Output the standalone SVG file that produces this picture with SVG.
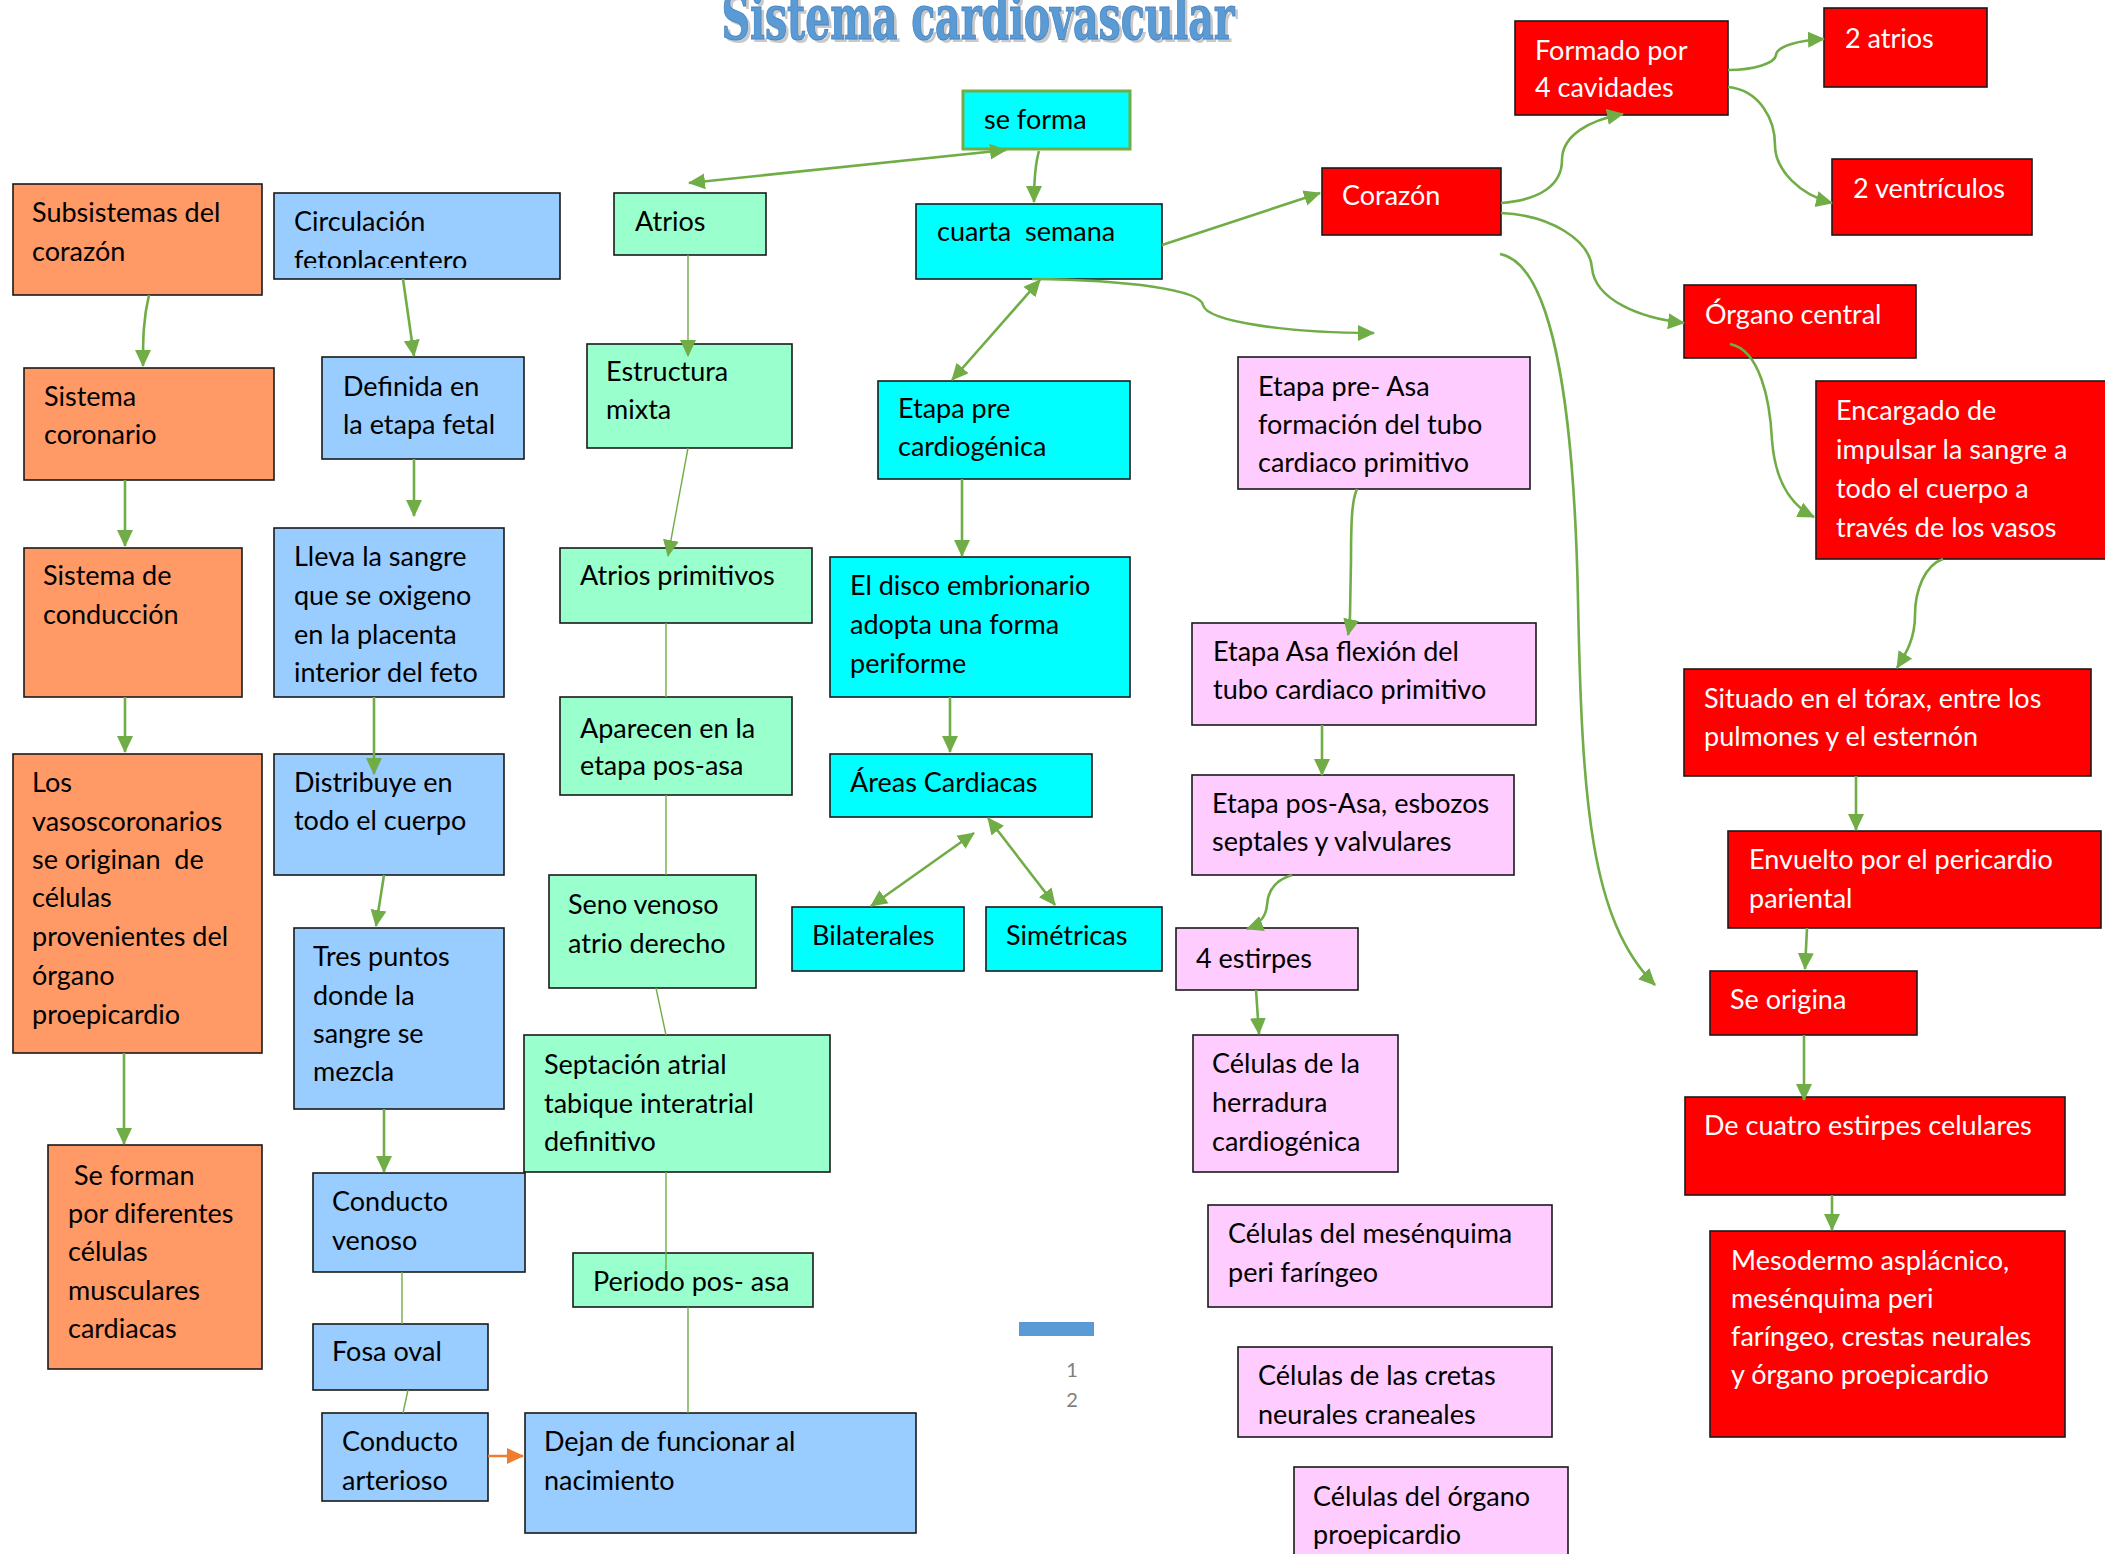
<svg xmlns="http://www.w3.org/2000/svg" width="2105" height="1554" viewBox="0 0 2105 1554">
<style>
.n rect{stroke:#1a1a1a;stroke-width:1.6}
.o rect{fill:#FF9966}.b rect{fill:#99CCFF}.g rect{fill:#99FFCC}.c rect{fill:#00FFFF}.p rect{fill:#FFCCFF}.r rect{fill:#FF0000}
.n text{font-family:Lato,"Open Sans","Liberation Sans",sans-serif;font-size:27px;fill:#000;white-space:pre}
.r text{fill:#fff}
.k path,.k line{fill:none;stroke:#70AD47;stroke-width:2.6}
.k .thin{stroke-width:1.4}
.title{font-family:"DejaVu Serif Condensed","DejaVu Serif",serif;font-weight:bold;font-size:62px}
</style>
<defs>
<marker id="a" markerUnits="userSpaceOnUse" markerWidth="18" markerHeight="18" viewBox="0 0 18 18" refX="16" refY="9" orient="auto-start-reverse"><path d="M0,1 L17,9 L0,17 Z" fill="#70AD47"/></marker>
<marker id="ao" markerUnits="userSpaceOnUse" markerWidth="18" markerHeight="18" viewBox="0 0 18 18" refX="16" refY="9" orient="auto"><path d="M0,1 L17,9 L0,17 Z" fill="#ED7D31"/></marker>
<clipPath id="clipCirc"><rect x="274" y="193" width="286" height="75"/></clipPath>
</defs>

<rect width="2105" height="1554" fill="#fff"/>

<g id="title">
<text class="title" x="981" y="42" text-anchor="middle" textLength="513" lengthAdjust="spacingAndGlyphs" fill="#C9C9C9">Sistema cardiovascular</text>
<text class="title" x="978" y="39" text-anchor="middle" textLength="513" lengthAdjust="spacingAndGlyphs" fill="#5B9BD5" stroke="#4A86C0" stroke-width="1">Sistema cardiovascular</text>
</g>

<!-- orange -->
<g id="subsistemas" class="n o"><rect x="13" y="184" width="249" height="111"/><text x="32" y="222">Subsistemas del</text><text x="32" y="261">corazón</text></g>
<g id="coronario" class="n o"><rect x="24" y="368" width="250" height="112"/><text x="44" y="406">Sistema</text><text x="44" y="444">coronario</text></g>
<g id="conduccion" class="n o"><rect x="24" y="548" width="218" height="149"/><text x="43" y="585">Sistema de</text><text x="43" y="624">conducción</text></g>
<g id="vasos" class="n o"><rect x="13" y="754" width="249" height="299"/><text x="32" y="792">Los</text><text x="32" y="831">vasoscoronarios</text><text x="32" y="869">se originan  de</text><text x="32" y="907">células</text><text x="32" y="946">provenientes del</text><text x="32" y="985">órgano</text><text x="32" y="1024">proepicardio</text></g>
<g id="seforman" class="n o"><rect x="48" y="1145" width="214" height="224"/><text x="74" y="1185">Se forman</text><text x="68" y="1223">por diferentes</text><text x="68" y="1261">células</text><text x="68" y="1300">musculares</text><text x="68" y="1338">cardiacas</text></g>

<!-- blue -->
<g id="circulacion" class="n b"><rect x="274" y="193" width="286" height="86"/><text x="294" y="231">Circulación</text><text x="294" y="270" clip-path="url(#clipCirc)">fetoplacentero</text></g>
<g id="definida" class="n b"><rect x="322" y="357" width="202" height="102"/><text x="343" y="396">Definida en</text><text x="343" y="434">la etapa fetal</text></g>
<g id="lleva" class="n b"><rect x="274" y="528" width="230" height="169"/><text x="294" y="566">Lleva la sangre</text><text x="294" y="605">que se oxigeno</text><text x="294" y="644">en la placenta</text><text x="294" y="682">interior del feto</text></g>
<g id="distribuye" class="n b"><rect x="274" y="754" width="230" height="121"/><text x="294" y="792">Distribuye en</text><text x="294" y="830">todo el cuerpo</text></g>
<g id="trespuntos" class="n b"><rect x="294" y="928" width="210" height="181"/><text x="313" y="966">Tres puntos</text><text x="313" y="1005">donde la</text><text x="313" y="1043">sangre se</text><text x="313" y="1081">mezcla</text></g>
<g id="venoso" class="n b"><rect x="313" y="1173" width="212" height="99"/><text x="332" y="1211">Conducto</text><text x="332" y="1250">venoso</text></g>
<g id="fosa" class="n b"><rect x="313" y="1324" width="175" height="66"/><text x="332" y="1361">Fosa oval</text></g>
<g id="arterioso" class="n b"><rect x="322" y="1413" width="166" height="88"/><text x="342" y="1451">Conducto</text><text x="342" y="1490">arterioso</text></g>
<g id="dejan" class="n b"><rect x="525" y="1413" width="391" height="120"/><text x="544" y="1451">Dejan de funcionar al</text><text x="544" y="1490">nacimiento</text></g>

<!-- green -->
<g id="atrios" class="n g"><rect x="614" y="193" width="152" height="62"/><text x="635" y="231">Atrios</text></g>
<g id="estructura" class="n g"><rect x="587" y="344" width="205" height="104"/><text x="606" y="381">Estructura</text><text x="606" y="419">mixta</text></g>
<g id="atriosprim" class="n g"><rect x="560" y="548" width="252" height="75"/><text x="580" y="585">Atrios primitivos</text></g>
<g id="aparecen" class="n g"><rect x="560" y="697" width="232" height="98"/><text x="580" y="738">Aparecen en la</text><text x="580" y="775">etapa pos-asa</text></g>
<g id="seno" class="n g"><rect x="549" y="875" width="207" height="113"/><text x="568" y="914">Seno venoso</text><text x="568" y="953">atrio derecho</text></g>
<g id="septacion" class="n g"><rect x="524" y="1035" width="306" height="137"/><text x="544" y="1074">Septación atrial</text><text x="544" y="1113">tabique interatrial</text><text x="544" y="1151">definitivo</text></g>
<g id="periodo" class="n g"><rect x="573" y="1253" width="240" height="54"/><text x="593" y="1291">Periodo pos- asa</text></g>

<!-- cyan -->
<g id="seforma" class="n c"><rect x="963" y="91" width="167" height="58" style="stroke:#70AD47;stroke-width:3"/><text x="984" y="129">se forma</text></g>
<g id="cuarta" class="n c"><rect x="916" y="204" width="246" height="75"/><text x="937" y="241">cuarta  semana</text></g>
<g id="precardio" class="n c"><rect x="878" y="381" width="252" height="98"/><text x="898" y="418">Etapa pre</text><text x="898" y="456">cardiogénica</text></g>
<g id="disco" class="n c"><rect x="830" y="557" width="300" height="140"/><text x="850" y="595">El disco embrionario</text><text x="850" y="634">adopta una forma</text><text x="850" y="673">periforme</text></g>
<g id="areas" class="n c"><rect x="830" y="754" width="262" height="63"/><text x="850" y="792">Áreas Cardiacas</text></g>
<g id="bilaterales" class="n c"><rect x="792" y="907" width="172" height="64"/><text x="812" y="945">Bilaterales</text></g>
<g id="simetricas" class="n c"><rect x="986" y="907" width="176" height="64"/><text x="1006" y="945">Simétricas</text></g>

<!-- pink -->
<g id="preasa" class="n p"><rect x="1238" y="357" width="292" height="132"/><text x="1258" y="396">Etapa pre- Asa</text><text x="1258" y="434">formación del tubo</text><text x="1258" y="472">cardiaco primitivo</text></g>
<g id="asa" class="n p"><rect x="1192" y="623" width="344" height="102"/><text x="1213" y="661">Etapa Asa flexión del</text><text x="1213" y="699">tubo cardiaco primitivo</text></g>
<g id="posasa" class="n p"><rect x="1192" y="775" width="322" height="100"/><text x="1212" y="813">Etapa pos-Asa, esbozos</text><text x="1212" y="851">septales y valvulares</text></g>
<g id="estirpes" class="n p"><rect x="1176" y="928" width="182" height="62"/><text x="1196" y="968">4 estirpes</text></g>
<g id="herradura" class="n p"><rect x="1193" y="1035" width="205" height="137"/><text x="1212" y="1073">Células de la</text><text x="1212" y="1112">herradura</text><text x="1212" y="1151">cardiogénica</text></g>
<g id="mesenquima" class="n p"><rect x="1208" y="1205" width="344" height="102"/><text x="1228" y="1243">Células del mesénquima</text><text x="1228" y="1282">peri faríngeo</text></g>
<g id="crestas" class="n p"><rect x="1238" y="1347" width="314" height="90"/><text x="1258" y="1385">Células de las cretas</text><text x="1258" y="1424">neurales craneales</text></g>
<g id="proepi" class="n p"><rect x="1294" y="1467" width="274" height="100"/><text x="1313" y="1506">Células del órgano</text><text x="1313" y="1544">proepicardio</text></g>

<!-- red -->
<g id="corazon" class="n r"><rect x="1322" y="168" width="179" height="67"/><text x="1342" y="205">Corazón</text></g>
<g id="formado" class="n r"><rect x="1515" y="21" width="213" height="94"/><text x="1535" y="60">Formado por</text><text x="1535" y="97">4 cavidades</text></g>
<g id="atrios2" class="n r"><rect x="1824" y="8" width="163" height="79"/><text x="1845" y="48">2 atrios</text></g>
<g id="ventriculos" class="n r"><rect x="1832" y="159" width="200" height="76"/><text x="1853" y="198">2 ventrículos</text></g>
<g id="organo" class="n r"><rect x="1684" y="285" width="232" height="73"/><text x="1705" y="324">Órgano central</text></g>
<g id="encargado" class="n r"><rect x="1816" y="381" width="292" height="178"/><text x="1836" y="420">Encargado de</text><text x="1836" y="459">impulsar la sangre a</text><text x="1836" y="498">todo el cuerpo a</text><text x="1836" y="537">través de los vasos</text></g>
<g id="situado" class="n r"><rect x="1684" y="669" width="407" height="107"/><text x="1704" y="708">Situado en el tórax, entre los</text><text x="1704" y="746">pulmones y el esternón</text></g>
<g id="envuelto" class="n r"><rect x="1728" y="831" width="373" height="97"/><text x="1749" y="869">Envuelto por el pericardio</text><text x="1749" y="908">pariental</text></g>
<g id="seorigina" class="n r"><rect x="1710" y="971" width="207" height="64"/><text x="1730" y="1009">Se origina</text></g>
<g id="decuatro" class="n r"><rect x="1685" y="1097" width="380" height="98"/><text x="1704" y="1135">De cuatro estirpes celulares</text></g>
<g id="mesodermo" class="n r"><rect x="1710" y="1231" width="355" height="206"/><text x="1731" y="1270">Mesodermo asplácnico,</text><text x="1731" y="1308">mesénquima peri</text><text x="1731" y="1346">faríngeo, crestas neurales</text><text x="1731" y="1384">y órgano proepicardio</text></g>

<g id="pagemark">
<rect x="1019" y="1322" width="75" height="14" fill="#5B9BD5"/>
<text x="1072" y="1377" text-anchor="middle" font-family="Lato,'Open Sans',sans-serif" font-size="20" fill="#7F7F7F">1</text>
<text x="1072" y="1407" text-anchor="middle" font-family="Lato,'Open Sans',sans-serif" font-size="20" fill="#7F7F7F">2</text>
</g>

<g id="connectors" class="k">
<!-- orange column -->
<path d="M149,295 C143,320 143,340 143,366" marker-end="url(#a)"/>
<path d="M125,480 L125,546" marker-end="url(#a)"/>
<path d="M125,697 L125,752" marker-end="url(#a)"/>
<path d="M124,1053 L124,1144" marker-end="url(#a)"/>
<!-- blue column -->
<path d="M403,279 L414,356" marker-end="url(#a)"/>
<path d="M414,459 L414,516" marker-end="url(#a)"/>
<path d="M374,697 L374,774" marker-end="url(#a)"/>
<path d="M384,875 L376,926" marker-end="url(#a)"/>
<path d="M384,1109 L384,1172" marker-end="url(#a)"/>
<path class="thin" d="M402,1272 L402,1324"/>
<path class="thin" d="M408,1390 L403,1413"/>
<path d="M488,1456 L523,1456" style="stroke:#ED7D31" marker-end="url(#ao)"/>
<!-- green column -->
<path class="thin" d="M688,255 L688,356" marker-end="url(#a)"/>
<path class="thin" d="M688,448 L668,556" marker-end="url(#a)"/>
<path class="thin" d="M666,623 L666,697"/>
<path class="thin" d="M666,795 L666,875"/>
<path class="thin" d="M656,988 L666,1035"/>
<path class="thin" d="M666,1172 L666,1270"/>
<path class="thin" d="M688,1307 L688,1413"/>
<!-- cyan column -->
<path d="M1006,150 L689,183" marker-start="url(#a)" marker-end="url(#a)"/>
<path d="M1039,151 C1035,165 1034,180 1034,202" marker-end="url(#a)"/>
<path d="M1162,245 L1320,193" marker-end="url(#a)"/>
<path d="M1040,280 L952,380" marker-start="url(#a)" marker-end="url(#a)"/>
<path d="M1032,279 C1130,280 1200,290 1203,305 C1207,322 1290,333 1374,333" marker-end="url(#a)"/>
<path d="M962,479 L962,556" marker-end="url(#a)"/>
<path d="M950,697 L950,752" marker-end="url(#a)"/>
<path d="M974,833 L871,906" marker-start="url(#a)" marker-end="url(#a)"/>
<path d="M988,818 L1055,905" marker-start="url(#a)" marker-end="url(#a)"/>
<!-- pink column -->
<path d="M1357,489 C1352,500 1351,520 1351,560 L1350,615 C1350,625 1349,630 1348,635" marker-end="url(#a)"/>
<path d="M1322,725 L1322,775" marker-end="url(#a)"/>
<path d="M1292,875 C1275,880 1268,890 1267,905 C1266,918 1258,925 1247,929" marker-end="url(#a)"/>
<path d="M1256,990 L1259,1034" marker-end="url(#a)"/>
<!-- red column -->
<path d="M1501,203 C1540,200 1562,185 1562,160 C1562,135 1590,120 1623,114" marker-end="url(#a)"/>
<path d="M1728,70 C1755,70 1775,63 1776,55 C1777,46 1800,40 1824,39" marker-end="url(#a)"/>
<path d="M1728,87 C1760,90 1775,120 1775,145 C1775,170 1800,195 1832,203" marker-end="url(#a)"/>
<path d="M1501,213 C1550,215 1590,240 1592,268 C1595,300 1640,318 1684,323" marker-end="url(#a)"/>
<path d="M1500,254 C1560,265 1575,450 1578,600 C1582,800 1590,920 1655,985" marker-end="url(#a)"/>
<path d="M1730,344 C1760,350 1770,400 1772,440 C1775,480 1790,505 1814,517" marker-end="url(#a)"/>
<path d="M1943,559 C1925,565 1915,590 1915,615 C1915,640 1905,655 1897,668" marker-end="url(#a)"/>
<path d="M1856,776 L1856,830" marker-end="url(#a)"/>
<path d="M1807,928 L1805,969" marker-end="url(#a)"/>
<path d="M1804,1035 L1804,1100" marker-end="url(#a)"/>
<path d="M1832,1195 L1832,1230" marker-end="url(#a)"/>
</g>
</svg>
